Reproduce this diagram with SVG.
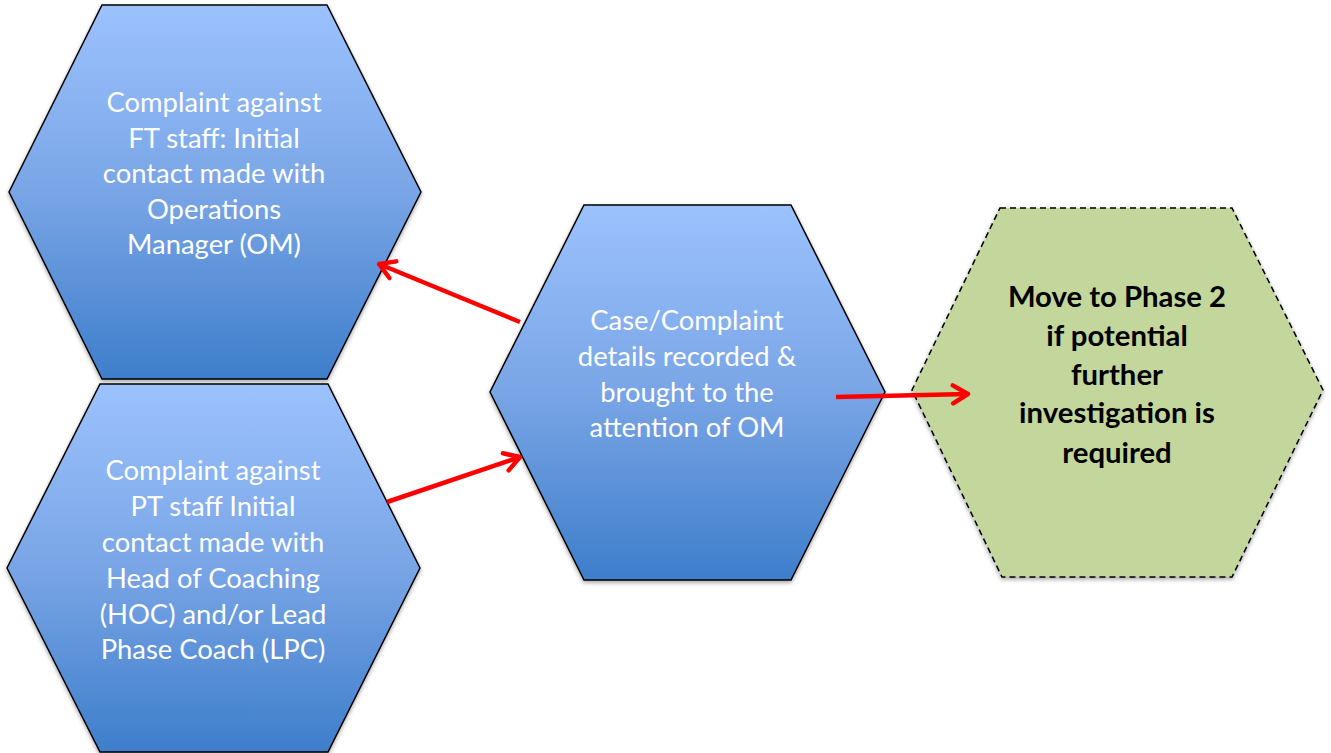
<svg xmlns="http://www.w3.org/2000/svg" width="1331" height="753" viewBox="0 0 1331 753">
<style>
.hex{fill:url(#blue);stroke:#000;stroke-width:1.5;filter:url(#sh)}
.green{fill:#C3D69B;stroke:#000;stroke-width:1.5;stroke-dasharray:6 4;filter:url(#sh)}
.wt{font-family:Lato,"Liberation Sans",sans-serif;font-size:27.4px;fill:#fff;text-anchor:middle}
.bt{font-family:Lato,"Liberation Sans",sans-serif;font-size:29.3px;font-weight:bold;fill:#000;text-anchor:middle}
.conn{stroke:#FF0000;stroke-width:4.5;fill:none;marker-end:url(#ah)}
</style>
<defs>
<linearGradient id="blue" x1="0" y1="0" x2="0" y2="1">
<stop offset="0" stop-color="#9CC2FD"/>
<stop offset="0.5" stop-color="#79A5E6"/>
<stop offset="1" stop-color="#3E7ECB"/>
</linearGradient>
<filter id="sh" x="-10%" y="-10%" width="120%" height="120%">
<feDropShadow dx="0" dy="2" stdDeviation="2" flood-color="#000" flood-opacity="0.35"/>
</filter>
<marker id="ah" markerUnits="userSpaceOnUse" viewBox="-20 -12 24 24" refX="0" refY="0" markerWidth="24" markerHeight="24" orient="auto">
<path d="M-15,-9 L0,0 L-15,9" fill="none" stroke="#FF0000" stroke-width="4.5" stroke-linecap="round" stroke-linejoin="round"/>
</marker>
</defs>
<g id="node-ft">
<polygon class="hex" points="102,5 327,5 421,192 327,379 102,379 9,192"/>
<text class="wt"><tspan x="214" y="112">Complaint against</tspan><tspan x="214" y="147.5">FT staff: Initial</tspan><tspan x="214" y="183">contact made with</tspan><tspan x="214" y="219">Operations</tspan><tspan x="214" y="254">Manager (OM)</tspan></text>
</g>
<g id="node-pt">
<polygon class="hex" points="100,384 328,384 420,568 328,752 100,752 7,568"/>
<text class="wt"><tspan x="213" y="480">Complaint against</tspan><tspan x="213" y="516">PT staff Initial</tspan><tspan x="213" y="552">contact made with</tspan><tspan x="213" y="588">Head of Coaching</tspan><tspan x="213" y="623.5">(HOC) and/or Lead</tspan><tspan x="213" y="659">Phase Coach (LPC)</tspan></text>
</g>
<g id="node-case">
<polygon class="hex" points="584,205 791,205 885,392 791,580 584,580 490,392"/>
<text class="wt"><tspan x="687" y="330">Case/Complaint</tspan><tspan x="687" y="366">details recorded &amp;</tspan><tspan x="687" y="402">brought to the</tspan><tspan x="687" y="437">attention of OM</tspan></text>
</g>
<g id="node-phase2">
<polygon class="green" points="1000,208 1232,208 1323,390 1232,577 1002,577 912,390"/>
<text class="bt"><tspan x="1117" y="307">Move to Phase 2</tspan><tspan x="1117" y="346">if potential</tspan><tspan x="1117" y="384.5">further</tspan><tspan x="1117" y="423">investigation is</tspan><tspan x="1117" y="462.5">required</tspan></text>
</g>
<g id="connectors">
<line class="conn" x1="520" y1="322" x2="379" y2="264"/>
<line class="conn" x1="387" y1="502" x2="520" y2="457"/>
<line class="conn" x1="836" y1="397" x2="968" y2="394"/>
</g>
</svg>
